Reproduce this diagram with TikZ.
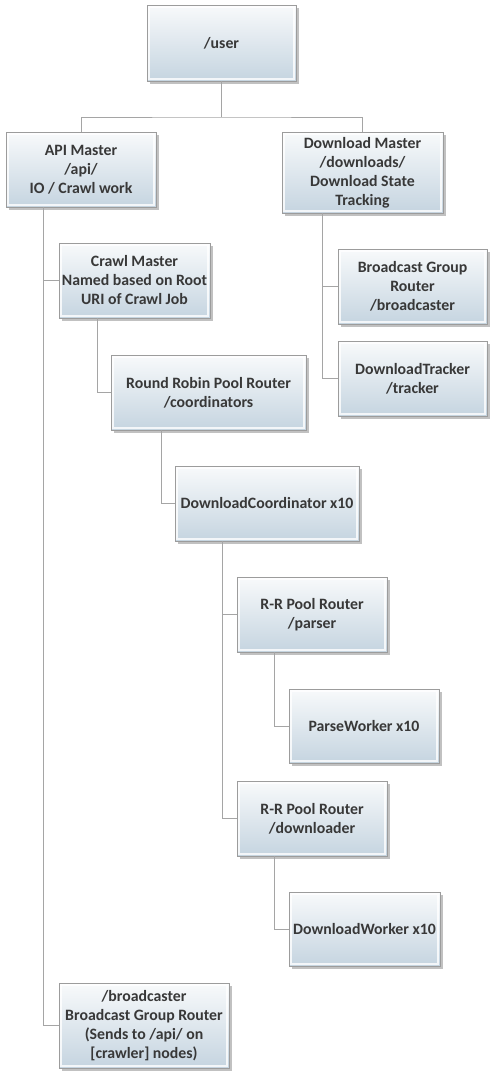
\documentclass[tikz,border=0pt]{standalone}
\usepackage{fontspec}
\setmainfont{Carlito}
\usetikzlibrary{shadows}

\definecolor{boxtop}{HTML}{F8FAFB}
\definecolor{boxbottom}{HTML}{C5D4E0}
\definecolor{boxline}{HTML}{9C9C9C}
\definecolor{wirecol}{HTML}{A5A5A5}
\definecolor{boxtext}{HTML}{383838}

\tikzset{
  actor/.style={draw=boxline, line width=0.8pt, top color=boxtop, bottom color=boxbottom,
    text=boxtext, font=\fontsize{15.8}{19}\selectfont\bfseries, align=center, inner sep=0pt,
    drop shadow={shadow xshift=2.5pt, shadow yshift=-2.5pt, opacity=0.35, fill=black!70},
    path picture={\draw[white, opacity=0.8, line width=1.6pt]
      ([shift={(2pt,-2pt)}]path picture bounding box.north west) rectangle
      ([shift={(-2pt,2pt)}]path picture bounding box.south east);}},
  wire/.style={draw=wirecol, line width=0.9pt}
}

\begin{document}
\begin{tikzpicture}[x=1pt, y=-1pt]
  \useasboundingbox (0,0) rectangle (497,1088);

  % Box centres
  \coordinate (U) at (221.5,43);
  \coordinate (A) at (81,169.5);
  \coordinate (D) at (362.5,172.5);
  \coordinate (C) at (134.5,280.5);
  \coordinate (B) at (412.5,286.5);
  \coordinate (T) at (412.5,378.5);
  \coordinate (R) at (208.5,392.5);
  \coordinate (K) at (267,503.5);
  \coordinate (P) at (312,614.5);
  \coordinate (W) at (364,726);
  \coordinate (L) at (312,818.5);
  \coordinate (X) at (364.5,929);
  \coordinate (G) at (144,1025.5);

  % Draw the boxes
  \node[actor, minimum width=149pt, minimum height=76pt] (user) at (U) {/user};
  \node[actor, minimum width=150pt, minimum height=75pt] (api) at (A) {API Master\\/api/\\IO / Crawl work};
  \node[actor, minimum width=161pt, minimum height=81pt] (dlmaster) at (D) {Download Master\\/downloads/\\Download State\\Tracking};
  \node[actor, minimum width=151pt, minimum height=75pt] (crawl) at (C) {Crawl Master\\Named based on Root\\URI of Crawl Job};
  \node[actor, minimum width=149pt, minimum height=75pt] (bgroup) at (B) {Broadcast Group\\Router\\/broadcaster};
  \node[actor, minimum width=149pt, minimum height=75pt] (tracker) at (T) {DownloadTracker\\/tracker};
  \node[actor, minimum width=195pt, minimum height=75pt] (rrpool) at (R) {Round Robin Pool Router\\/coordinators};
  \node[actor, minimum width=184pt, minimum height=75pt] (coord) at (K) {DownloadCoordinator x10};
  \node[actor, minimum width=150pt, minimum height=75pt] (parser) at (P) {R-R Pool Router\\/parser};
  \node[actor, minimum width=150pt, minimum height=74pt] (pworker) at (W) {ParseWorker x10};
  \node[actor, minimum width=150pt, minimum height=75pt] (loader) at (L) {R-R Pool Router\\/downloader};
  \node[actor, minimum width=151pt, minimum height=74pt] (dworker) at (X) {DownloadWorker x10};
  \node[actor, minimum width=170pt, minimum height=85pt] (bcast) at (G) {/broadcaster\\Broadcast Group Router\\(Sends to /api/ on\\{}[crawler] nodes)};

  % Branch points on the bottom edges
  \coordinate (j0) at (221.5,117);
  \coordinate (aout) at (43,207);
  \coordinate (dout) at (322,213);
  \coordinate (cout) at (97,318);
  \coordinate (rout) at (161,430);
  \coordinate (kout) at (222,541);
  \coordinate (pout) at (274,652);
  \coordinate (lout) at (274,856);

  % Draw the connectors
  \draw[wire] (user.south) -- (j0);
  \draw[wire] (api.north) |- (j0) -| (dlmaster.north);
  \foreach \from/\to in {aout/crawl, aout/bcast, dout/bgroup, dout/tracker, cout/rrpool,
    rout/coord, kout/parser, kout/loader, pout/pworker, lout/dworker}
    \draw[wire] (\from) |- (\to.west);
\end{tikzpicture}
\end{document}
